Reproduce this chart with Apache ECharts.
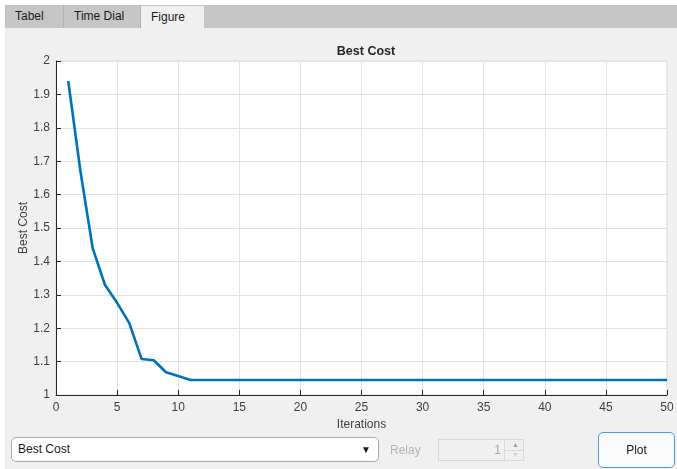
<!DOCTYPE html>
<html>
<head>
<meta charset="utf-8">
<script src="https://cdn.jsdelivr.net/npm/echarts@6/dist/echarts.min.js"></script>
<style>
  html,body{margin:0;padding:0;width:677px;height:469px;overflow:hidden;background:#fff;font-family:"Liberation Sans",Arial,sans-serif;}
  #strip{position:absolute;left:5px;top:5px;width:672px;height:23px;background:#c6c6c6;}
  .tab{position:absolute;top:5px;height:23px;line-height:23px;font-size:12px;color:#1a1a1a;padding-left:10px;box-sizing:border-box;}
  #panel{position:absolute;left:5px;top:28px;width:672px;height:441px;background:#f0f0f0;}
  #chart{position:absolute;left:0;top:0;width:677px;height:469px;}
  .ctl{position:absolute;box-sizing:border-box;font-size:12px;}
</style>
</head>
<body>
<div id="strip"></div>
<div class="tab" style="left:5px;width:59px;border-right:1px solid #b2b2b2;">Tabel</div>
<div class="tab" style="left:64px;width:77px;border-right:1px solid #b2b2b2;">Time Dial</div>
<div class="tab" style="left:141px;width:63px;top:6px;height:22px;line-height:22px;background:#f0f0f0;">Figure</div>
<div id="panel"></div>
<div id="chart"></div>
<div class="ctl" style="left:11px;top:437px;width:368px;height:25px;border:1px solid #a9a9a9;border-radius:5px;background:#fff;line-height:23px;padding-left:6px;color:#1a1a1a;">Best Cost<span style="position:absolute;right:7px;top:0;font-size:10px;">&#9660;</span></div>
<div class="ctl" style="left:390px;top:441px;height:18px;line-height:18px;color:#b4b4b4;">Relay</div>
<div class="ctl" style="left:438px;top:439px;width:86px;height:22px;border:1px solid #d9d9d9;background:#f0f0f0;">
  <span style="position:absolute;right:22px;top:3px;color:#a8a8a8;">1</span>
  <span style="position:absolute;right:0;top:0;width:18px;height:20px;border-left:1px solid #d9d9d9;"></span>
  <span style="position:absolute;right:4px;top:1px;font-size:7px;color:#a0a0a0;">&#9650;</span>
  <span style="position:absolute;right:4px;top:11px;font-size:7px;color:#d0d0d0;">&#9660;</span>
  <span style="position:absolute;right:0;top:10px;width:18px;border-top:1px solid #d9d9d9;"></span>
</div>
<div class="ctl" style="left:598px;top:432px;width:77px;height:36px;border:1px solid #4a9be6;border-radius:5px;background:#fbfbfb;line-height:34px;text-align:center;color:#1a1a1a;">Plot</div>
<script>
const iterations = [1,2,3,4,5,6,7,8,9,10,11,12,13,14,15,16,17,18,19,20,21,22,23,24,25,26,27,28,29,30,31,32,33,34,35,36,37,38,39,40,41,42,43,44,45,46,47,48,49,50];
const bestCost = [1.940,1.670,1.440,1.330,1.276,1.215,1.108,1.104,1.068,1.057,1.045,1.045,1.045,1.045,1.045,1.045,1.045,1.045,1.045,1.045,1.045,1.045,1.045,1.045,1.045,1.045,1.045,1.045,1.045,1.045,1.045,1.045,1.045,1.045,1.045,1.045,1.045,1.045,1.045,1.045,1.045,1.045,1.045,1.045,1.045,1.045,1.045,1.045,1.045,1.045];
const xTicks = [0,5,10,15,20,25,30,35,40,45,50];
const yTicks = [1,1.1,1.2,1.3,1.4,1.5,1.6,1.7,1.8,1.9,2];

const chart = echarts.init(document.getElementById('chart'), null, {renderer:'canvas'});
const font = '"Liberation Sans", Arial, sans-serif';
chart.setOption({
  backgroundColor: 'transparent',
  animation: false,
  title: {
    text: 'Best Cost', left: 361, top: 40, textAlign: 'center',
    textStyle: {fontFamily: font, fontSize: 12.5, fontWeight: 'bold', color: '#262626'}
  },
  grid: {left: 56, top: 61, width: 611, height: 334, show: true, backgroundColor: '#ffffff', borderColor: '#dadada', borderWidth: 1},
  xAxis: {
    type: 'value', min: xTicks[0], max: xTicks[xTicks.length-1], interval: 5,
    name: 'Iterations', nameLocation: 'middle', nameGap: 24, nameMoveOverlap: false,
    nameTextStyle: {fontFamily: font, fontSize: 12, color: '#404040'},
    axisLine: {show: true, onZero: false, lineStyle: {color: '#262626', width: 1}},
    axisTick: {show: true, inside: true, length: 5, lineStyle: {color: '#262626'}},
    axisLabel: {fontFamily: font, fontSize: 12, color: '#404040', margin: 7},
    splitLine: {show: true, lineStyle: {color: '#e3e3e3', width: 1}}
  },
  yAxis: {
    type: 'value', min: yTicks[0], max: yTicks[yTicks.length-1], interval: 0.1,
    name: 'Best Cost', nameLocation: 'middle', nameGap: 26, nameMoveOverlap: false,
    nameTextStyle: {fontFamily: font, fontSize: 12, color: '#404040'},
    axisLine: {show: true, onZero: false, lineStyle: {color: '#262626', width: 1}},
    axisTick: {show: true, inside: true, length: 5, lineStyle: {color: '#262626'}},
    axisLabel: {fontFamily: font, fontSize: 12, color: '#404040', margin: 6, formatter: v => String(+v.toFixed(1))},
    splitLine: {show: true, lineStyle: {color: '#e3e3e3', width: 1}}
  },
  series: [{
    type: 'line', data: iterations.map((x,i) => [x, bestCost[i]]),
    showSymbol: false, smooth: false,
    lineStyle: {color: '#0072BD', width: 2.6},
    itemStyle: {color: '#0072BD'}
  }]
});
</script>
</body>
</html>
